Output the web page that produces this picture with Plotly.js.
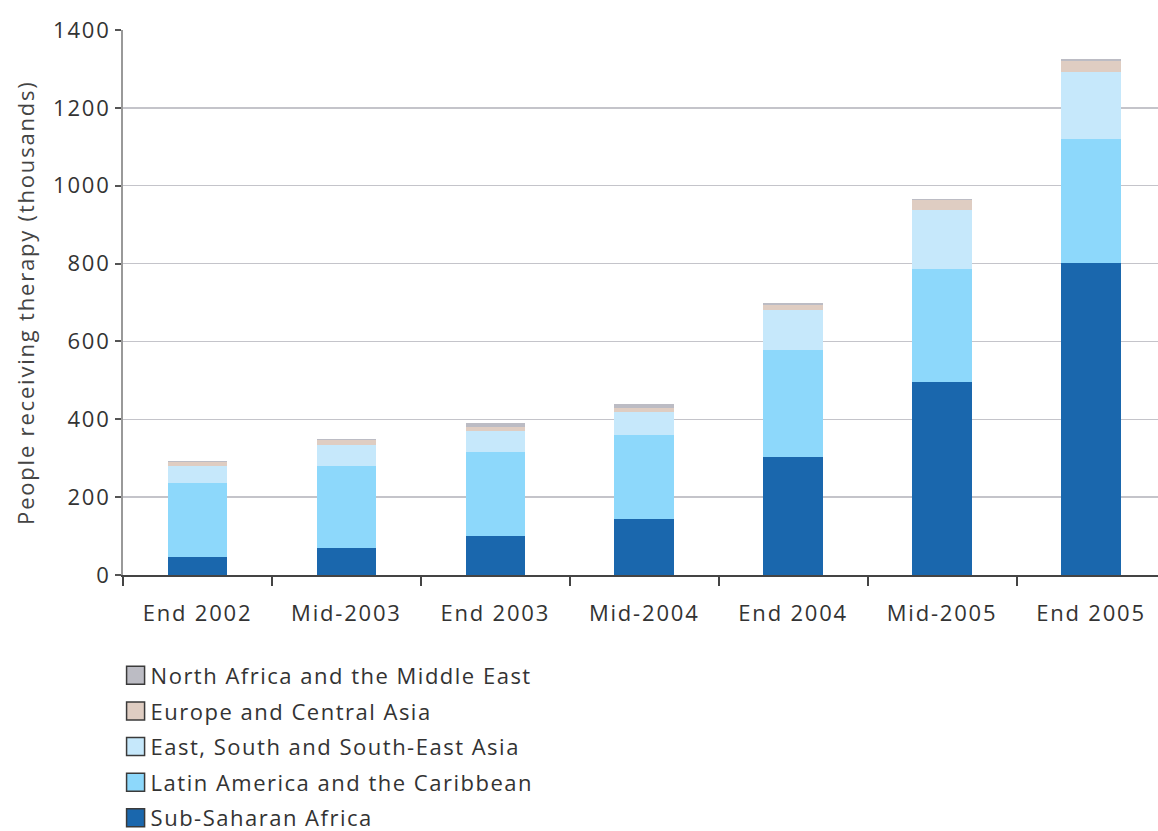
<!DOCTYPE html>
<html>
<head>
<meta charset="utf-8">
<script src="https://cdn.plot.ly/plotly-3.0.1.min.js"></script>
<style>
html,body{margin:0;padding:0;background:#fff;}
#chart{width:1158px;height:831px;}
#chart text{letter-spacing:1.8px;}
#chart .legend text{letter-spacing:1.5px;}
#chart .legend .scrollbox{clip-path:none !important;}
#chart .legend .legendpoints path{stroke:#3a3a3a !important;stroke-width:1px !important;stroke-opacity:1 !important;transform-box:fill-box;transform-origin:center;transform:translate(25px,0) scale(1.5);}
</style>
</head>
<body>
<div id="chart"></div>
<script>
const categories = ["End 2002", "Mid-2003", "End 2003", "Mid-2004", "End 2004", "Mid-2005", "End 2005"];
const subSaharanAfrica = [45, 70, 99, 143, 304, 496, 801];
const latinAmerica = [191, 209, 216, 217, 273, 289, 319];
const eastSouthAsia = [43, 56, 55, 60, 103, 152, 171];
const europeCentralAsia = [11, 11, 11, 10, 13, 26, 30];
const northAfricaMiddleEast = [2, 4, 10, 10, 7, 2, 4];
const yTicks = [0, 200, 400, 600, 800, 1000, 1200, 1400];
const yTitle = "People receiving therapy (thousands)";

const seriesNames = ["Sub-Saharan Africa", "Latin America and the Caribbean", "East, South and South-East Asia", "Europe and Central Asia", "North Africa and the Middle East"];
const seriesValues = [subSaharanAfrica, latinAmerica, eastSouthAsia, europeCentralAsia, northAfricaMiddleEast];
const colors = ["#1a67ad", "#8dd8fb", "#c6e8fb", "#dfcdc2", "#bcbcc4"];

const traces = seriesNames.map((n, i) => ({
  type: "bar", name: n, x: categories, y: seriesValues[i],
  legendgroup: "g" + i, legendrank: 100 - i,
  marker: {color: colors[i], line: {width: 0}},
  width: 0.4, hoverinfo: "x+y+name"
}));

const font = "'Open Sans', sans-serif";
const layout = {
  width: 1158, height: 831,
  margin: {l: 123, r: 0, t: 30, b: 255.5, autoexpand: false},
  paper_bgcolor: "#fff", plot_bgcolor: "#fff",
  barmode: "stack",
  font: {family: font, color: "#333", size: 22},
  xaxis: {
    type: "category", range: [-0.5, 6.45],
    tickson: "boundaries", ticks: "outside", ticklen: 9, tickwidth: 2, tickcolor: "#444",
    showline: true, linecolor: "#444", linewidth: 2,
    showgrid: false, ticklabelstandoff: 18,
    tickfont: {size: 22, color: "#333", family: font}
  },
  yaxis: {
    range: [0, 1400], tickvals: yTicks, ticktext: yTicks.map(String),
    ticks: "outside", ticklen: 6, tickwidth: 2, tickcolor: "#555",
    showline: true, linecolor: "#999", linewidth: 2,
    showgrid: true, gridcolor: "#c4c4ca", gridwidth: 1.5,
    zeroline: false, ticklabelstandoff: 0,
    tickfont: {size: 22, color: "#333", family: font}
  },
  annotations: [{
    text: yTitle, xref: "paper", yref: "paper", x: -0.0947, y: 0.5,
    xanchor: "center", yanchor: "middle", textangle: -90, showarrow: false,
    font: {size: 22, color: "#444", family: font}
  }],
  showlegend: true,
  legend: {
    x: -0.012, xanchor: "left", y: -0.146, yanchor: "top",
    traceorder: "grouped", tracegroupgap: 4,
    font: {size: 22, color: "#333", family: font},
    itemwidth: 30, bgcolor: "rgba(0,0,0,0)"
  }
};

Plotly.newPlot("chart", traces, layout, {displayModeBar: false, staticPlot: true});
</script>
</body>
</html>
